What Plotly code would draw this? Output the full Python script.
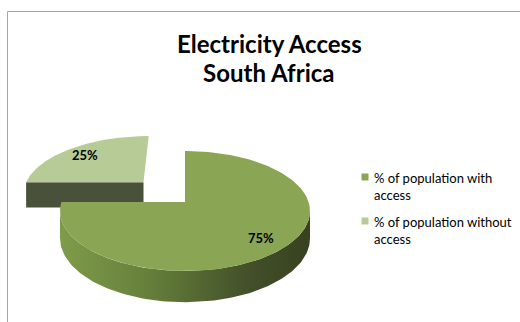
import math
import numpy as np
import plotly.graph_objects as go

# ---- data ----
categories = ["% of population with access", "% of population without access"]
legend_labels = ["% of population with<br>access", "% of population without<br>access"]
values = [75, 25]
explode = [0.0, 0.5]
title_lines = ["Electricity Access", "South Africa"]

# ---- style constants ----
W, H = 520, 322
top_colors = ["#8AA553", "#B6CB95"]
edge_colors = ["#55663A", "#4A513A"]
side_gradient = [[0.0, "#7E9C4A"], [0.35, "#66803B"], [0.75, "#43502A"], [1.0, "#37411F"]]
FONT = "Lato, 'Open Sans', sans-serif"

# projection of the pie plane (perspective)
CX, CY, A, B, P = 185.0, 202.0, 123.6, 58.65, 0.15
DEPTH = 26.5
LABEL_K = 0.8


def proj(u, v):
    w = 1 + P * v
    return CX + A * u / w, CY - B * v / w


def drop(v):
    return DEPTH / (1 + P * v)


fig = go.Figure()

total = float(sum(values))
slices = []
theta = math.pi / 2
for i, val in enumerate(values):
    span = val / total * 2 * math.pi
    ts, te = theta, theta - span
    mid = (ts + te) / 2
    ou, ov = explode[i] * math.cos(mid), explode[i] * math.sin(mid)
    slices.append(dict(i=i, ts=ts, te=te, mid=mid, ou=ou, ov=ov))
    theta = te

# draw back slices first
order = sorted(slices, key=lambda s: -math.sin(s["mid"]))

vis_lo = math.pi + math.asin(P)
vis_hi = 2 * math.pi - math.asin(P)

for s in order:
    i = s["i"]
    ou, ov = s["ou"], s["ov"]

    # radial edge faces
    for phi, nv in ((s["ts"], math.cos(s["ts"])), (s["te"], -math.cos(s["te"]))):
        if nv < -1e-6:
            u0, v0 = ou, ov
            u1, v1 = ou + math.cos(phi), ov + math.sin(phi)
            x0, y0 = proj(u0, v0)
            x1, y1 = proj(u1, v1)
            xs = [x0, x1, x1, x0, x0]
            ys = [y0, y1, y1 + drop(v1), y0 + drop(v0), y0]
            fig.add_trace(go.Scatter(x=xs, y=ys, mode="lines", fill="toself",
                                     fillcolor=edge_colors[i], line=dict(width=0),
                                     hoverinfo="skip", showlegend=False))

    # curved outer side (front-facing part)
    for k in (-1, 0, 1):
        lo = max(s["te"], vis_lo + 2 * math.pi * k)
        hi = min(s["ts"], vis_hi + 2 * math.pi * k)
        if lo < hi:
            t = np.linspace(lo, hi, 120)
            uu, vv = ou + np.cos(t), ov + np.sin(t)
            xt, yt = proj(uu, vv)
            yb = yt + drop(vv)
            xs = np.concatenate([xt, xt[::-1], xt[:1]])
            ys = np.concatenate([yt, yb[::-1], yt[:1]])
            fig.add_trace(go.Scatter(x=xs, y=ys, mode="lines", fill="toself",
                                     fillgradient=dict(type="horizontal", colorscale=side_gradient,
                                                       start=float(xt.min()), stop=float(xt.max())),
                                     line=dict(width=0), hoverinfo="skip", showlegend=False))

    # top face
    t = np.linspace(s["ts"], s["te"], 200)
    uu = np.concatenate([[ou], ou + np.cos(t), [ou]])
    vv = np.concatenate([[ov], ov + np.sin(t), [ov]])
    xt, yt = proj(uu, vv)
    fig.add_trace(go.Scatter(x=xt, y=yt, mode="lines", fill="toself",
                             fillcolor=top_colors[i], line=dict(width=0),
                             name=categories[i], hoverinfo="skip", showlegend=False))

# data labels
for s in slices:
    lu = s["ou"] + LABEL_K * math.cos(s["mid"])
    lv = s["ov"] + LABEL_K * math.sin(s["mid"])
    lx, ly = proj(lu, lv)
    fig.add_annotation(x=lx, y=ly, text=f"<b>{values[s['i']]}%</b>", showarrow=False,
                       font=dict(family=FONT, size=13, color="#000000"),
                       xanchor="center", yanchor="middle")

# legend (manual)
LEG_X, LEG_Y0, LEG_DY = 365, 177, 44
fig.add_trace(go.Scatter(x=[LEG_X] * len(values), y=[LEG_Y0 + j * LEG_DY for j in range(len(values))],
                         mode="markers", marker=dict(symbol="square", size=7, color=top_colors,
                                                     line=dict(width=0)),
                         hoverinfo="skip", showlegend=False))
for j, lab in enumerate(legend_labels):
    fig.add_annotation(x=LEG_X + 7, y=LEG_Y0 + j * LEG_DY - 9, text=lab, showarrow=False,
                       align="left", xanchor="left", yanchor="top",
                       font=dict(family=FONT, size=13, color="#000000"))

# title (two lines, tight spacing)
for j, line in enumerate(title_lines):
    fig.add_annotation(x=269, y=43 + j * 29, text=f"<b>{line}</b>", showarrow=False,
                       xanchor="center", yanchor="middle",
                       font=dict(family=FONT, size=24, color="#000000"))

# chart border
fig.add_shape(type="rect", x0=7.5, y0=11.5, x1=540, y1=340,
              line=dict(color="#A6A6A6", width=1), fillcolor="rgba(0,0,0,0)", layer="above")

fig.update_layout(
    width=W, height=H, margin=dict(l=0, r=0, t=0, b=0),
    paper_bgcolor="white", plot_bgcolor="white",
    xaxis=dict(range=[0, W], visible=False, fixedrange=True),
    yaxis=dict(range=[H, 0], visible=False, fixedrange=True),
    showlegend=False,
)

fig.write_html("out.html")
